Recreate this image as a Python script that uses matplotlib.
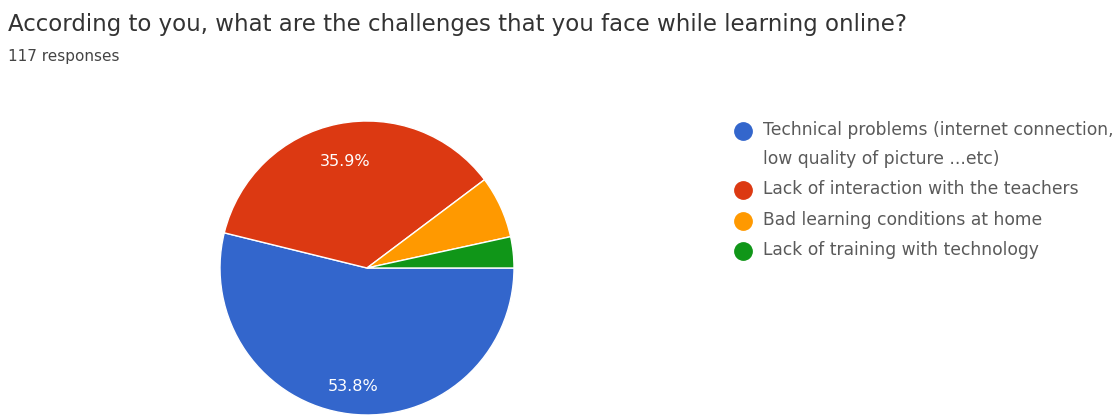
import matplotlib
matplotlib.use("Agg")
import matplotlib.pyplot as plt
from matplotlib.lines import Line2D

plt.rcParams['font.family'] = ['DejaVu Sans']

title = "According to you, what are the challenges that you face while learning online?"
subtitle = "117 responses"
categories = [
    "Technical problems (internet connection,\nlow quality of picture ...etc)",
    "Lack of interaction with the teachers",
    "Bad learning conditions at home",
    "Lack of training with technology",
]
counts = [63, 42, 8, 4]
colors = ["#3366cc", "#dc3912", "#ff9900", "#109618"]

W, H = 1119, 416
fig = plt.figure(figsize=(W / 100, H / 100), dpi=100)
fig.patch.set_facecolor("white")

cx, cy, r = 367, 268, 147
ax = fig.add_axes([(cx - r) / W, (H - cy - r) / H, 2 * r / W, 2 * r / H])

def fmt(p):
    return f"{p:.1f}%" if p >= 10 else ""

wedges, texts, autotexts = ax.pie(
    counts, colors=colors, startangle=0, counterclock=False,
    autopct=fmt, pctdistance=0.74,
    wedgeprops=dict(edgecolor="white", linewidth=1.0),
    textprops=dict(color="white", fontsize=11.5),
)
# the large slice label sits a little further out
x, y = autotexts[0].get_position()
autotexts[0].set_position((x * 0.81 / 0.74, y * 0.81 / 0.74))

ax.set_xlim(-1, 1)
ax.set_ylim(-1, 1)
ax.set_aspect("equal")
ax.axis("off")

fig.text(8 / W, 1 - 25 / H, title, fontsize=16.5, color="#333333", va="center", ha="left")
fig.text(8 / W, 1 - 57 / H, subtitle, fontsize=11, color="#444444", va="center", ha="left")

# legend
ys = [131, 190, 221, 251]
for yy, lab, c in zip(ys, categories, colors):
    fig.add_artist(Line2D([743 / W], [1 - yy / H], marker="o", markersize=12.5,
                          color=c, linestyle="none", transform=fig.transFigure))
    fig.text(763 / W, 1 - (yy - 10) / H, lab, fontsize=12.3, color="#5a5a5a",
             va="top", ha="left", linespacing=1.8)

fig.savefig("out.png", dpi=100, facecolor="white")
